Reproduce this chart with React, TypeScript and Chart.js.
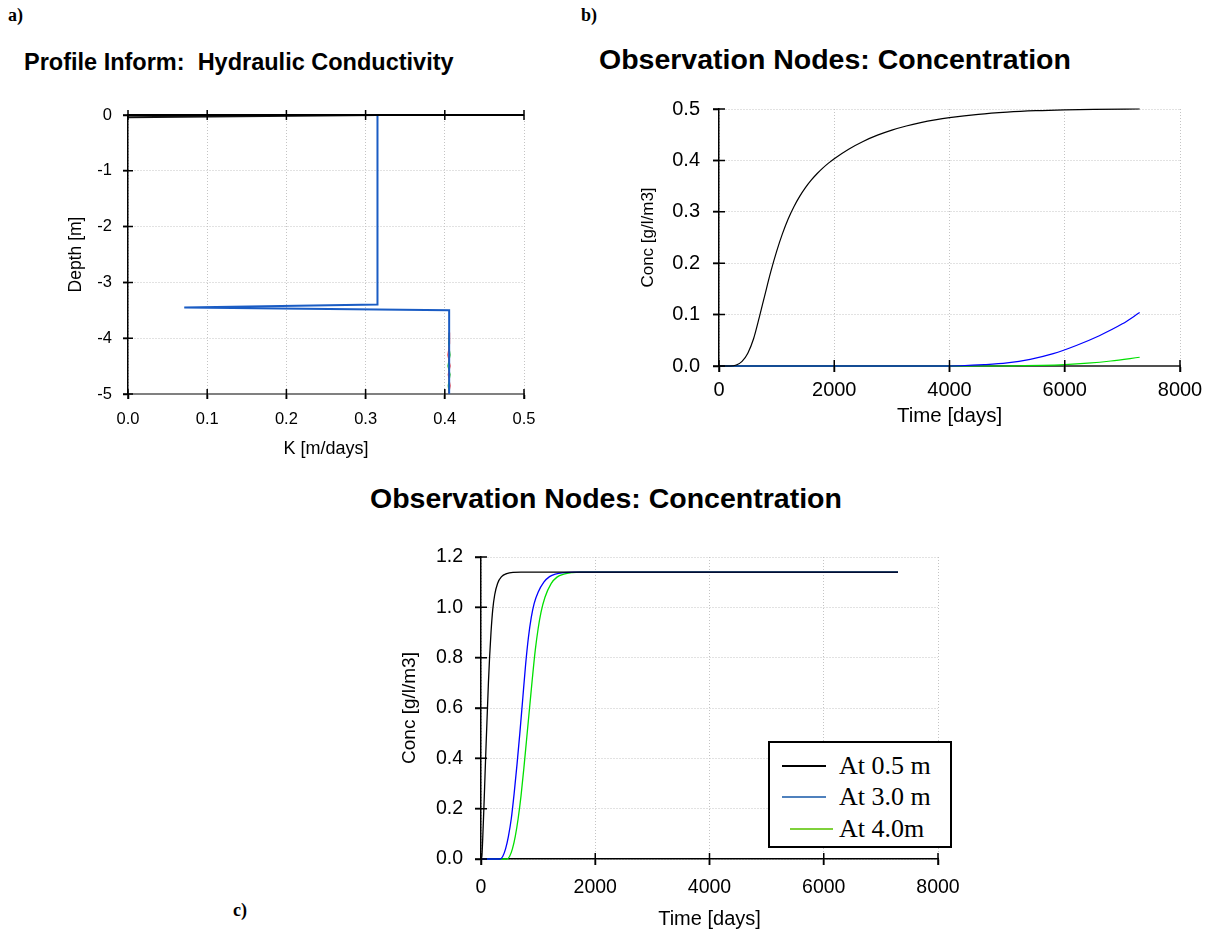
import React, { useEffect, useRef } from 'react';
import { Chart, registerables } from 'chart.js';

Chart.register(...registerables);

// ---------- Chart a: Hydraulic conductivity profile ----------
const aXTickVals = [0, 0.1, 0.2, 0.3, 0.4, 0.5];
const aXTickLabels = ['0.0', '0.1', '0.2', '0.3', '0.4', '0.5'];
const aYTickVals = [0, -1, -2, -3, -4, -5];
const aYTickLabels = ['0', '-1', '-2', '-3', '-4', '-5'];

const aBlackK = [0.315, 0.0];
const aBlackD = [0, -0.04];
const aBlueK = [0.315, 0.315, 0.071, 0.4055, 0.4055];
const aBlueD = [0, -3.395, -3.449, -3.497, -5];
const aRedK = [0.4055, 0.406, 0.404, 0.4066, 0.4044, 0.4066, 0.405];
const aRedD = [-3.9, -4.1, -4.3, -4.5, -4.65, -4.85, -5];
const aGreenK = [0.4055, 0.4048, 0.4066, 0.404, 0.4066, 0.4044, 0.4055];
const aGreenD = [-3.9, -4.1, -4.3, -4.5, -4.65, -4.85, -5];

// ---------- Chart b: Observation nodes concentration ----------
const bXTickVals = [0, 2000, 4000, 6000, 8000];
const bXTickLabels = ['0', '2000', '4000', '6000', '8000'];
const bYTickVals = [0, 0.1, 0.2, 0.3, 0.4, 0.5];
const bYTickLabels = ['0.0', '0.1', '0.2', '0.3', '0.4', '0.5'];

const bBlackT = [0, 200, 300, 400, 500, 600, 700, 800, 900, 1000, 1100, 1200, 1300, 1400, 1500, 1600, 1700, 1800, 1900, 2000, 2250, 2500, 2750, 3000, 3250, 3500, 3750, 4000, 4500, 5000, 5500, 6000, 6500, 7300];
const bBlackC = [0, 0, 0.002, 0.009, 0.025, 0.053, 0.095, 0.14, 0.184, 0.223, 0.257, 0.286, 0.31, 0.33, 0.347, 0.3615, 0.374, 0.385, 0.3947, 0.4034, 0.4219, 0.4369, 0.4491, 0.459, 0.467, 0.4735, 0.4788, 0.4831, 0.4896, 0.4939, 0.4967, 0.4984, 0.4994, 0.5];
const bBlueT = [0, 3800, 4200, 4600, 5000, 5400, 5800, 6200, 6600, 7000, 7300];
const bBlueC = [0, 0, 0.0005, 0.0025, 0.006, 0.013, 0.024, 0.04, 0.059, 0.082, 0.104];
const bGreenT = [0, 4800, 5200, 5600, 6000, 6400, 6800, 7300];
const bGreenC = [0, 0, 0.0005, 0.0012, 0.0027, 0.0055, 0.0097, 0.017];

// ---------- Chart c: Observation nodes concentration ----------
const cXTickVals = [0, 2000, 4000, 6000, 8000];
const cXTickLabels = ['0', '2000', '4000', '6000', '8000'];
const cYTickVals = [0, 0.2, 0.4, 0.6, 0.8, 1.0, 1.2];
const cYTickLabels = ['0.0', '0.2', '0.4', '0.6', '0.8', '1.0', '1.2'];

const cSeriesNames = ['At 0.5 m', 'At 3.0 m', 'At 4.0m'];
const cLegendColors = ['#000000', '#4f81bd', '#7fd13b'];

const cBlackT = [0, 15, 30, 50, 70, 90, 110, 130, 150, 175, 205, 240, 290, 360, 450, 560, 700, 7300];
const cBlackC = [0, 0.01, 0.08, 0.2, 0.33, 0.46, 0.58, 0.7, 0.8, 0.9, 0.99, 1.05, 1.095, 1.122, 1.134, 1.139, 1.14, 1.14];
const cBlueT = [0, 330, 380, 430, 480, 530, 580, 630, 680, 730, 780, 830, 880, 930, 1000, 1100, 1200, 1300, 1450, 1615, 7300];
const cBlueC = [0, 0, 0.01, 0.04, 0.09, 0.16, 0.26, 0.375, 0.5, 0.635, 0.77, 0.88, 0.96, 1.015, 1.06, 1.1, 1.122, 1.132, 1.138, 1.14, 1.14];
const cGreenT = [0, 450, 500, 550, 600, 650, 700, 750, 800, 850, 900, 950, 1000, 1050, 1120, 1230, 1330, 1450, 1600, 1732, 7300];
const cGreenC = [0, 0, 0.01, 0.04, 0.09, 0.16, 0.25, 0.36, 0.48, 0.6, 0.72, 0.83, 0.915, 0.98, 1.04, 1.095, 1.12, 1.132, 1.138, 1.14, 1.14];

const SANS = '"Liberation Sans", Arial, sans-serif';
const SERIF = '"Liberation Serif", "Times New Roman", serif';

const pts = (xs: number[], ys: number[]) => xs.map((x, i) => ({ x, y: ys[i] }));

const crossTicks = {
  id: 'crossTicks',
  afterDraw(chart: any, _args: any, opts: any) {
    const { ctx, chartArea: ca, scales } = chart;
    const o = opts || {};
    const len = o.len ?? 5;
    const w = o.width ?? 1.5;
    ctx.save();
    ctx.strokeStyle = '#000';
    ctx.setLineDash([]);
    if (o.top) {
      ctx.beginPath();
      ctx.lineWidth = 2;
      ctx.moveTo(ca.left, ca.top);
      ctx.lineTo(ca.right, ca.top);
      ctx.stroke();
    }
    ctx.lineWidth = w;
    ctx.beginPath();
    const xs = scales.x;
    const ys = scales.y;
    for (const t of xs.ticks) {
      const px = xs.getPixelForValue(t.value);
      ctx.moveTo(px, ca.bottom - len);
      ctx.lineTo(px, ca.bottom + len);
      if (o.top) {
        ctx.moveTo(px, ca.top - len);
        ctx.lineTo(px, ca.top + len);
      }
    }
    for (const t of ys.ticks) {
      const py = ys.getPixelForValue(t.value);
      ctx.moveTo(ca.left - len, py);
      ctx.lineTo(ca.left + len, py);
    }
    ctx.stroke();
    ctx.restore();
  },
};

interface AxisSpec {
  min: number;
  max: number;
  vals: number[];
  labels: string[];
  tickSize: number;
  tickPad: number;
  tickLen: number;
  title: string;
  titleSize: number;
  titlePad: number;
  fit: number;
  borderColor: string;
  borderWidth: number;
  isX: boolean;
}

function axis(s: AxisSpec) {
  return {
    type: 'linear',
    position: s.isX ? 'bottom' : 'left',
    min: s.min,
    max: s.max,
    afterBuildTicks: (sc: any) => {
      sc.ticks = s.vals.map((v) => ({ value: v }));
    },
    afterFit: (sc: any) => {
      if (s.isX) sc.height = s.fit;
      else sc.width = s.fit;
    },
    ticks: {
      autoSkip: false,
      maxRotation: 0,
      padding: s.tickPad,
      color: '#000',
      font: { family: SANS, size: s.tickSize },
      callback: (v: number) => {
        const i = s.vals.findIndex((x) => Math.abs(x - v) < 1e-9);
        return i >= 0 ? s.labels[i] : '';
      },
    },
    grid: {
      color: '#c4c4c4',
      lineWidth: 1,
      drawTicks: true,
      tickLength: s.tickLen,
      tickColor: '#000',
      tickWidth: 1.5,
    },
    border: { color: s.borderColor, width: s.borderWidth, dash: [1, 2] },
    title: {
      display: true,
      text: s.title,
      color: '#000',
      font: { family: SANS, size: s.titleSize },
      padding: s.isX ? { top: 0, bottom: s.titlePad } : { top: s.titlePad, bottom: 0 },
    },
  };
}

function ChartBox({ config, left, top, width, height }: any) {
  const ref = useRef<HTMLCanvasElement>(null);
  useEffect(() => {
    if (!ref.current) return;
    const chart = new Chart(ref.current, config);
    return () => chart.destroy();
  }, []);
  return (
    <canvas
      ref={ref}
      width={width}
      height={height}
      style={{ position: 'absolute', left, top, width, height }}
    />
  );
}

const lineDs = (label: string, data: any[], color: string, width: number, smooth: boolean) => ({
  label,
  data,
  showLine: true,
  borderColor: color,
  backgroundColor: color,
  borderWidth: width,
  pointRadius: 0,
  fill: false,
  clip: false,
  tension: 0,
  cubicInterpolationMode: smooth ? 'monotone' : 'default',
});

function baseOptions(pad: any, x: any, y: any, tickLen: number, top: boolean) {
  return {
    responsive: false,
    animation: false,
    devicePixelRatio: 1,
    events: [],
    layout: { padding: pad },
    plugins: {
      legend: { display: false },
      tooltip: { enabled: false },
      crossTicks: { len: tickLen, width: 1.5, top },
    },
    scales: { x, y },
  };
}

const configA = {
  type: 'scatter',
  data: {
    datasets: [
      lineDs('black', pts(aBlackK, aBlackD), '#111111', 2, false),
      lineDs('blue', pts(aBlueK, aBlueD), '#1a5cc4', 2, false),
      lineDs('red', pts(aRedK, aRedD), '#ff2020', 1.2, false),
      lineDs('green', pts(aGreenK, aGreenD), '#10c010', 1.2, false),
    ],
  },
  options: baseOptions(
    { top: 27, right: 36, left: 0, bottom: 0 },
    axis({ min: 0, max: 0.5, vals: aXTickVals, labels: aXTickLabels, tickSize: 16.5, tickPad: 11, tickLen: 5, title: 'K [m/days]', titleSize: 18, titlePad: 15, fit: 81, borderColor: '#808080', borderWidth: 2, isX: true }),
    axis({ min: -5, max: 0, vals: aYTickVals, labels: aYTickLabels, tickSize: 16.5, tickPad: 11, tickLen: 5, title: 'Depth [m]', titleSize: 17.5, titlePad: 25.5, fit: 88, borderColor: '#000', borderWidth: 1.5, isX: false }),
    5,
    true
  ),
  plugins: [crossTicks],
};

const configB = {
  type: 'scatter',
  data: {
    datasets: [
      lineDs('0.5 m', pts(bBlackT, bBlackC), '#000000', 1.2, true),
      lineDs('3.0 m', pts(bBlueT, bBlueC), '#0000ff', 1.2, true),
      lineDs('4.0 m', pts(bGreenT, bGreenC), '#00e000', 1.2, true),
    ],
  },
  options: baseOptions(
    { top: 30, right: 32, left: 0, bottom: 0 },
    axis({ min: 0, max: 8000, vals: bXTickVals, labels: bXTickLabels, tickSize: 20, tickPad: 6, tickLen: 6, title: 'Time [days]', titleSize: 20.5, titlePad: 1, fit: 64, borderColor: '#505050', borderWidth: 2, isX: true }),
    axis({ min: 0, max: 0.5, vals: bYTickVals, labels: bYTickLabels, tickSize: 20, tickPad: 13, tickLen: 6, title: 'Conc [g/l/m3]', titleSize: 17, titlePad: 37.8, fit: 119, borderColor: '#000', borderWidth: 1.5, isX: false }),
    6,
    false
  ),
  plugins: [crossTicks],
};

const configC = {
  type: 'scatter',
  data: {
    datasets: [
      lineDs(cSeriesNames[0], pts(cBlackT, cBlackC), '#000000', 1.3, true),
      lineDs(cSeriesNames[1], pts(cBlueT, cBlueC), '#0000ff', 1.3, true),
      lineDs(cSeriesNames[2], pts(cGreenT, cGreenC), '#00e000', 1.3, true),
    ],
  },
  options: baseOptions(
    { top: 28, right: 36, left: 0, bottom: 0 },
    axis({ min: 0, max: 8000, vals: cXTickVals, labels: cXTickLabels, tickSize: 19.5, tickPad: 11.3, tickLen: 6, title: 'Time [days]', titleSize: 20, titlePad: 14, fit: 86, borderColor: '#000', borderWidth: 1.5, isX: true }),
    axis({ min: 0, max: 1.2, vals: cYTickVals, labels: cYTickLabels, tickSize: 19.5, tickPad: 12, tickLen: 6, title: 'Conc [g/l/m3]', titleSize: 19, titlePad: 38.6, fit: 121, borderColor: '#000', borderWidth: 1.5, isX: false }),
    6,
    false
  ),
  plugins: [crossTicks],
};

const textAbs = (left: number, top: number, font: string, extra: any = {}) => ({
  position: 'absolute' as const,
  left,
  top,
  font,
  lineHeight: 1,
  whiteSpace: 'pre' as const,
  color: '#000',
  ...extra,
});

function Legend() {
  const rows = [25, 56, 88];
  const lineLeft = [14, 14, 22];
  const lineWidth = [44, 44, 43];
  return (
    <div
      style={{
        position: 'absolute',
        left: 768,
        top: 741,
        width: 184,
        height: 107,
        boxSizing: 'border-box',
        border: '2px solid #000',
        background: '#fff',
      }}
    >
      {cSeriesNames.map((name, i) => (
        <React.Fragment key={name}>
          <div
            style={{
              position: 'absolute',
              left: lineLeft[i] - 2,
              top: rows[i] - 2 - 1,
              width: lineWidth[i],
              height: 2,
              background: cLegendColors[i],
            }}
          />
          <div style={textAbs(71 - 2, rows[i] - 2 - 13, `26px ${SERIF}`)}>{name}</div>
        </React.Fragment>
      ))}
    </div>
  );
}

export default function App() {
  return (
    <div style={{ position: 'absolute', left: 0, top: 0, width: 1212, height: 945, background: '#fff', overflow: 'hidden' }}>
      <div style={textAbs(8, 6, `bold 18px ${SERIF}`)}>a)</div>
      <div style={textAbs(581, 6, `bold 18px ${SERIF}`)}>b)</div>
      <div style={textAbs(233, 901, `bold 18px ${SERIF}`)}>c)</div>
      <div style={textAbs(24, 50.5, `bold 23.5px ${SANS}`)}>{'Profile Inform:  Hydraulic Conductivity'}</div>
      <div style={textAbs(599, 45, `bold 28.5px ${SANS}`)}>Observation Nodes: Concentration</div>
      <div style={textAbs(370, 484, `bold 28.5px ${SANS}`)}>Observation Nodes: Concentration</div>
      <ChartBox config={configA} left={40} top={88} width={520} height={387} />
      <ChartBox config={configB} left={600} top={79} width={612} height={351} />
      <ChartBox config={configC} left={360} top={529} width={614} height={416} />
      <Legend />
    </div>
  );
}
